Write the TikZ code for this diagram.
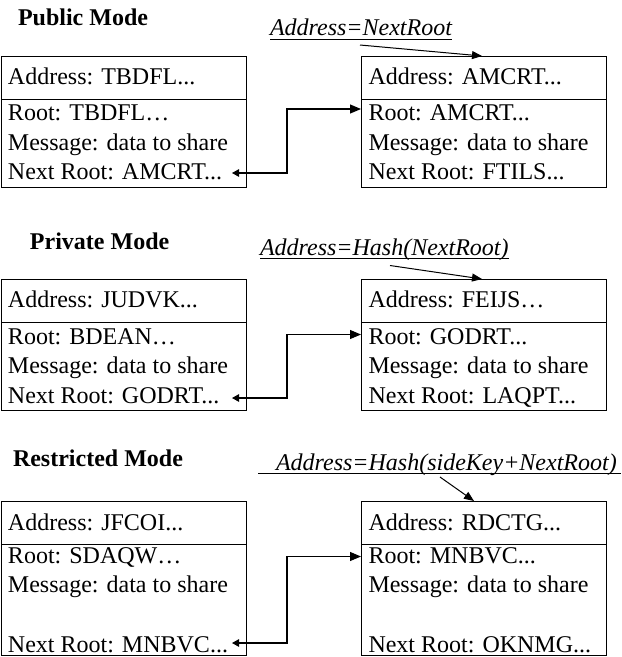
\documentclass[tikz,border=0pt]{standalone}
\usepackage{fontspec}
\setmainfont{Liberation Serif}
\usetikzlibrary{arrows.meta}

\begin{document}
\begin{tikzpicture}[x=1pt,y=-1pt,
  every node/.style={inner sep=0pt, outer sep=0pt},
  cell/.style={draw, line width=1pt, minimum width=245pt, anchor=north west},
  txt/.style={anchor=base west, font=\fontsize{24}{28}\selectfont},
  head/.style={anchor=base west, font=\fontsize{24}{28}\selectfont\bfseries},
  formula/.style={anchor=base west, font=\fontsize{24}{28}\selectfont\itshape},
  link/.style={line width=1.1pt, {Triangle[length=7pt,width=7.5pt]}-{Triangle[length=11pt,width=9pt]}},
  pointer/.style={line width=1pt, -{Triangle[length=10pt,width=8pt]}},
  uline/.style={line width=0.9pt}
]
\useasboundingbox (0,0) rectangle (622,657);

% ---------------- Public mode ----------------
\node[head] (m1) at (18,25) {Public Mode};
\node[formula] (f1) at (270,35) {Address=NextRoot};
\draw[uline] ([yshift=-4pt]f1.base west) -- ([yshift=-4pt]f1.base east);

\node[cell, minimum height=43pt] (lh1) at (1,56) {};
\node[cell, minimum height=88pt] (lb1) at (1,99) {};
\node[cell, minimum height=43pt] (rh1) at (361,56) {};
\node[cell, minimum height=88pt] (rb1) at (361,99) {};

\node[txt] (la1) at (8,84.5)  {Address: TBDFL...};
\node[txt] (lr1) at (8,120.5) {Root: TBDFL…};
\node[txt] (lm1) at (8,150)   {Message: data to share};
\node[txt] (ln1) at (8,179)   {Next Root: AMCRT...};
\node[txt] (ra1) at (368.5,84.5)  {Address: AMCRT...};
\node[txt] (rr1) at (368.5,120.5) {Root: AMCRT...};
\node[txt] (rm1) at (368.5,150)   {Message: data to share};
\node[txt] (rn1) at (368.5,179)   {Next Root: FTILS...};

\coordinate (p1) at (360,45);
\coordinate (q1) at (482,56);
\draw[pointer] (p1) -- (q1);
\coordinate (t1) at (232,173);
\coordinate (j1) at (287,109);
\draw[link] (t1) -| (j1) -- (j1 -| rb1.west);

% ---------------- Private mode ----------------
\node[head] (m2) at (30,249) {Private Mode};
\node[formula] (f2) at (260,255) {Address=Hash(NextRoot)};
\draw[uline] ([yshift=-3.5pt]f2.base west) -- ([yshift=-3.5pt]f2.base east);

\node[cell, minimum height=43pt] (lh2) at (1,279) {};
\node[cell, minimum height=88pt] (lb2) at (1,322) {};
\node[cell, minimum height=43pt] (rh2) at (361,279) {};
\node[cell, minimum height=88pt] (rb2) at (361,322) {};

\node[txt] (la2) at (8,307.5) {Address: JUDVK...};
\node[txt] (lr2) at (8,344)   {Root: BDEAN…};
\node[txt] (lm2) at (8,373.5) {Message: data to share};
\node[txt] (ln2) at (8,403.5) {Next Root: GODRT...};
\node[txt] (ra2) at (368.5,307.5) {Address: FEIJS…};
\node[txt] (rr2) at (368.5,344)   {Root: GODRT...};
\node[txt] (rm2) at (368.5,373.5) {Message: data to share};
\node[txt] (rn2) at (368.5,403.5) {Next Root: LAQPT...};

\coordinate (p2) at (390,265.5);
\coordinate (q2) at (482,279);
\draw[pointer] (p2) -- (q2);
\coordinate (t2) at (232,398);
\coordinate (j2) at (287,334.5);
\draw[link] (t2) -| (j2) -- (j2 -| rb2.west);

% ---------------- Restricted mode ----------------
\node[head] (m3) at (13,466) {Restricted Mode};
\node[formula] (f3) at (276,470) {Address=Hash(sideKey+NextRoot)};
\draw[uline] ([xshift=-18pt,yshift=-3.5pt]f3.base west) -- ([xshift=4pt,yshift=-3.5pt]f3.base east);

\node[cell, minimum height=43pt] (lh3) at (1,501) {};
\node[cell, minimum height=111.5pt] (lb3) at (1,544) {};
\node[cell, minimum height=43pt] (rh3) at (361,501) {};
\node[cell, minimum height=111.5pt] (rb3) at (361,544) {};

\node[txt] (la3) at (8,530.5) {Address: JFCOI...};
\node[txt] (lr3) at (8,563)   {Root: SDAQW…};
\node[txt] (lm3) at (8,592)   {Message: data to share};
\node[txt] (ln3) at (8,652)   {Next Root: MNBVC...};
\node[txt] (ra3) at (368.5,530.5) {Address: RDCTG...};
\node[txt] (rr3) at (368.5,563)   {Root: MNBVC...};
\node[txt] (rm3) at (368.5,592)   {Message: data to share};
\node[txt] (rn3) at (368.5,652)   {Next Root: OKNMG...};

\coordinate (p3) at (440,477);
\coordinate (q3) at (474,501);
\draw[pointer] (p3) -- (q3);
\coordinate (t3) at (232,643);
\coordinate (j3) at (287,556.5);
\draw[link] (t3) -| (j3) -- (j3 -| rb3.west);
\end{tikzpicture}
\end{document}
